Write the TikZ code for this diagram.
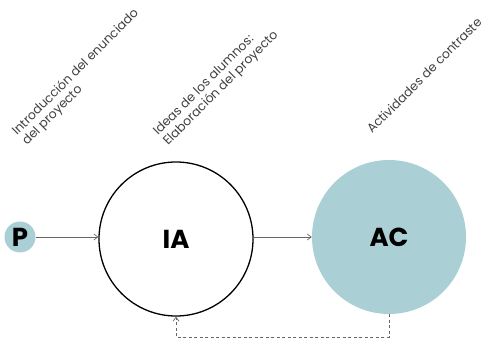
\documentclass[tikz,border=0pt]{standalone}
\usepackage{fontspec}
\setmainfont{Poppins}
\usetikzlibrary{arrows.meta}
\definecolor{tealpale}{HTML}{AACFD5}
\definecolor{linkgray}{HTML}{666666}
\tikzset{
  bubble/.style={circle, inner sep=0pt, font=\bfseries\fontsize{26}{30}\selectfont},
  caption/.style={rotate=45, anchor=base west, align=left, inner sep=0pt,
    text=black!75, font=\fontsize{12.5}{14}\selectfont},
  link/.style={draw=linkgray, line width=0.7pt, -{Straight Barb[length=4pt,width=6pt]}},
  backlink/.style={link, dashed, dash pattern=on 3pt off 2.5pt}
}
\begin{document}
\begin{tikzpicture}[x=1pt,y=-1pt]
  \useasboundingbox (0,0) rectangle (487,347);

  % stages
  \node[bubble, fill=tealpale, minimum size=31pt] (p) at (20,237) {P};
  \node[bubble, draw=black, line width=1.3pt, minimum size=154pt] (ia) at (176,239) {IA};
  \node[bubble, fill=tealpale, minimum size=154pt] (ac) at (389,237) {AC};

  % forward flow
  \draw[link] (p) -- (ia.west |- p);
  \draw[link] (ia.east |- p) -- (ac.west |- p);

  % feedback from the contrast activities back to the students' ideas
  \coordinate (fbR) at (ac.south |- 0,337);
  \coordinate (fbL) at (ia.south |- 0,337);
  \draw[backlink] (ac.south) -- (fbR) -- (fbL) -- (ia.south);

  % stage captions (anchored on the baseline of their last line)
  \node[caption] (c1) at (27,146) {Introducción del enunciado\\del proyecto};
  \node[caption] (c2) at (168,146) {Ideas de los alumnos:\\Elaboración del proyecto};
  \node[caption] (c3) at (372,134) {Actividades de contraste};
\end{tikzpicture}
\end{document}
